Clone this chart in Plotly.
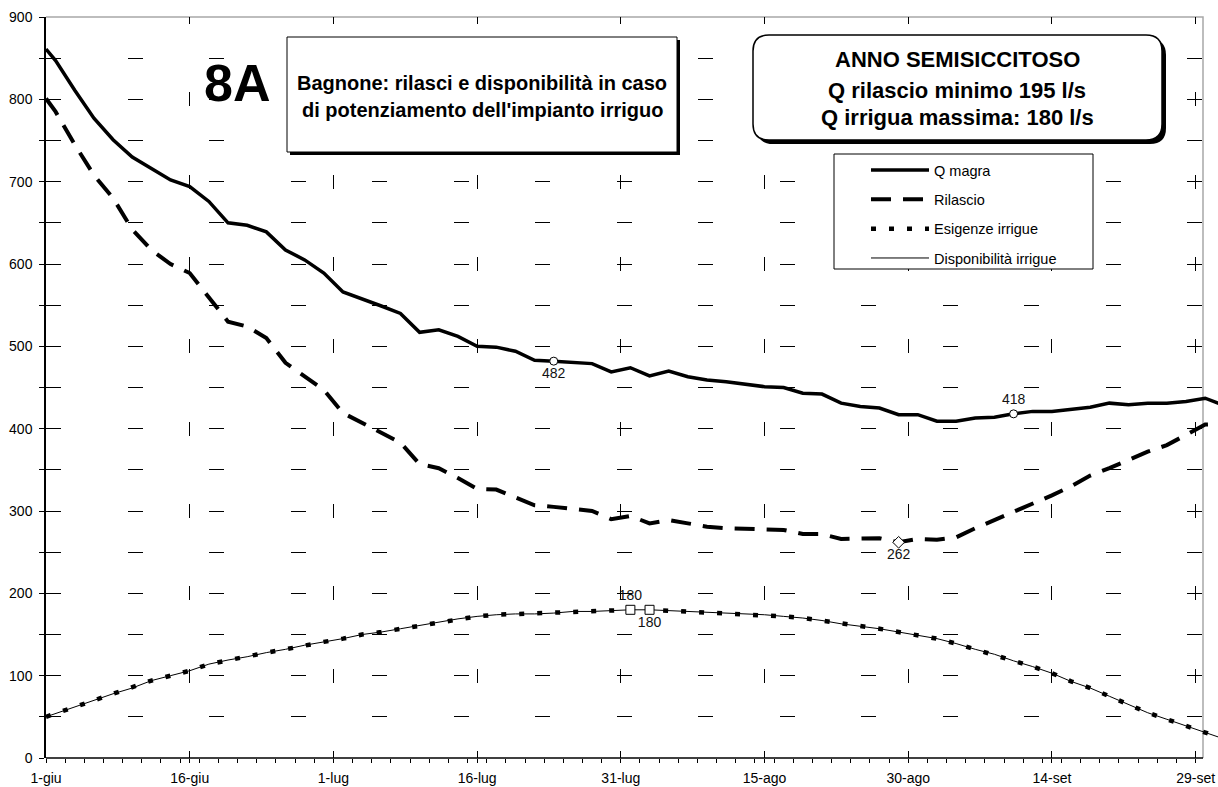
import plotly.graph_objects as go

# ---------------- data ----------------
days = [0, 1, 3, 5, 7, 9, 11, 13, 15, 17, 19, 21, 23, 25, 27, 29, 31, 33, 35, 37,
        39, 41, 43, 45, 47, 49, 51, 53, 55, 57, 59, 61, 63, 65, 67, 69, 71, 73, 75,
        77, 79, 81, 83, 85, 87, 89, 91, 93, 95, 97, 99, 101, 103, 105, 107, 109,
        111, 113, 115, 117, 119, 121, 123]

q_magra = [861, 847, 811, 777, 751, 730, 716, 702, 694, 676, 650, 647, 639, 617, 605,
           589, 566, 558, 549, 540, 517, 520, 512, 500, 499, 494, 483, 482, 481, 479,
           469, 474, 464, 470, 463, 459, 457, 454, 451, 450, 443, 442, 431, 427, 425,
           417, 417, 409, 409, 413, 414, 418, 421, 421, 424, 426, 431, 429, 431, 431,
           433, 437, 428]

rilascio = [801, 785, 745, 708, 680, 642, 617, 600, 589, 560, 530, 524, 510, 480, 463,
            447, 419, 407, 396, 383, 357, 352, 340, 327, 326, 316, 307, 305, 302, 300,
            290, 294, 285, 289, 285, 281, 279, 278, 277, 277, 272, 272, 266, 266, 267,
            262, 266, 265, 268, 279, 289, 298, 309, 319, 330, 343, 352, 362, 372, 380,
            392, 405, 406]

esigenze = [50, 54, 62, 70, 78, 85, 94, 100, 106, 114, 119, 123, 128, 132, 137, 141,
            145, 150, 153, 157, 161, 165, 169, 172, 174, 175, 175, 176, 178, 178, 179,
            180, 180, 179, 178, 177, 176, 175, 174, 172, 170, 167, 163, 160, 157, 153,
            149, 145, 139, 132, 126, 118, 111, 103, 93, 85, 75, 65, 55, 47, 39, 31, 23]

disponibilita = [50, 54, 62, 70, 78, 85, 94, 100, 106, 114, 119, 123, 128, 132, 137, 141,
                 145, 150, 153, 157, 161, 165, 169, 172, 174, 175, 175, 176, 178, 178, 179,
                 180, 180, 179, 178, 177, 176, 175, 174, 172, 170, 167, 163, 160, 157, 153,
                 149, 145, 139, 132, 126, 118, 111, 103, 93, 85, 75, 65, 55, 47, 39, 31, 23]

# highlighted points
qmagra_mark_days = [53, 101]
qmagra_mark_vals = [482, 418]
rilascio_mark_days = [89]
rilascio_mark_vals = [262]
irrig_mark_days = [61, 63]
irrig_mark_vals = [180, 180]

tick_days = [0, 15, 30, 45, 60, 75, 90, 105, 120]
tick_labels = ["1-giu", "16-giu", "1-lug", "16-lug", "31-lug", "15-ago", "30-ago",
               "14-set", "29-set"]
minor_tick_days = list(range(0, 121, 2))

series_names = ["Q magra", "Rilascio", "Esigenze irrigue", "Disponibilità irrigue"]

# ---------------- geometry helpers ----------------
W, H = 1218, 787
ML, MT, MB, MR = 46, 17, 29, 0
PW = W - ML - MR
PH = H - MT - MB
PX_PER_DAY = 9.58
X_MAX = PW / PX_PER_DAY

def px(xp):
    return (xp - ML) / PW

def py(yp):
    return (H - MB - yp) / PH

FONT = "Liberation Sans, Arial, sans-serif"

fig = go.Figure()

fig.add_trace(go.Scatter(x=days, y=q_magra, name=series_names[0], mode="lines",
                         legendgroup="a",
                         line=dict(color="black", width=3.5)))
fig.add_trace(go.Scatter(x=days, y=rilascio, name=series_names[1], mode="lines",
                         legendgroup="b",
                         line=dict(color="black", width=4, dash="20px,12px")))
fig.add_trace(go.Scatter(x=days, y=esigenze, name=series_names[2], mode="lines",
                         legendgroup="c",
                         line=dict(color="black", width=4.5, dash="5px,13px")))
fig.add_trace(go.Scatter(x=days, y=disponibilita, name=series_names[3], mode="lines",
                         legendgroup="d",
                         line=dict(color="black", width=1)))

mark_font = dict(family=FONT, size=14, color="#111")
fig.add_trace(go.Scatter(x=qmagra_mark_days, y=qmagra_mark_vals, mode="markers+text",
                         showlegend=False,
                         text=[str(v) for v in qmagra_mark_vals],
                         textposition=["bottom center", "top center"],
                         textfont=mark_font,
                         marker=dict(symbol="circle", size=8, color="white",
                                     line=dict(color="black", width=1))))
fig.add_trace(go.Scatter(x=rilascio_mark_days, y=rilascio_mark_vals, mode="markers+text",
                         showlegend=False,
                         text=[str(v) for v in rilascio_mark_vals],
                         textposition=["bottom center"],
                         textfont=mark_font,
                         marker=dict(symbol="diamond", size=9, color="white",
                                     line=dict(color="black", width=1))))
fig.add_trace(go.Scatter(x=irrig_mark_days, y=irrig_mark_vals, mode="markers+text",
                         showlegend=False,
                         text=[str(v) for v in irrig_mark_vals],
                         textposition=["top center", "bottom center"],
                         textfont=mark_font,
                         marker=dict(symbol="square", size=9, color="white",
                                     line=dict(color="black", width=1))))

# ---------------- decorations ----------------
shapes = []
# light grey plot-area border (top and right)
shapes.append(dict(type="path", xref="paper", yref="paper", layer="below",
                   path=f"M{px(46)},{py(17)} L{px(1203)},{py(17)} L{px(1203)},{py(758)}",
                   line=dict(color="#a8a8a8", width=1.5)))
# x axis line
shapes.append(dict(type="line", xref="paper", yref="paper", layer="above",
                   x0=0, x1=px(1203), y0=0, y1=0,
                   line=dict(color="black", width=1.5)))
# title box 1 with shadow
shapes.append(dict(type="rect", xref="paper", yref="paper", layer="above",
                   x0=px(290), x1=px(680), y0=py(40), y1=py(155),
                   fillcolor="black", line=dict(width=0)))
shapes.append(dict(type="rect", xref="paper", yref="paper", layer="above",
                   x0=px(287), x1=px(677), y0=py(37), y1=py(152),
                   fillcolor="white", line=dict(color="black", width=1)))

def rounded(x0, y0, x1, y1, r):
    return (f"M{px(x0 + r)},{py(y0)} L{px(x1 - r)},{py(y0)} "
            f"Q{px(x1)},{py(y0)} {px(x1)},{py(y0 + r)} "
            f"L{px(x1)},{py(y1 - r)} Q{px(x1)},{py(y1)} {px(x1 - r)},{py(y1)} "
            f"L{px(x0 + r)},{py(y1)} Q{px(x0)},{py(y1)} {px(x0)},{py(y1 - r)} "
            f"L{px(x0)},{py(y0 + r)} Q{px(x0)},{py(y0)} {px(x0 + r)},{py(y0)} Z")

shapes.append(dict(type="path", xref="paper", yref="paper", layer="above",
                   path=rounded(757, 39, 1166, 144, 16),
                   fillcolor="black", line=dict(width=0)))
shapes.append(dict(type="path", xref="paper", yref="paper", layer="above",
                   path=rounded(753, 35, 1162, 140, 16),
                   fillcolor="white", line=dict(color="black", width=1.5)))
# legend box
shapes.append(dict(type="rect", xref="paper", yref="paper", layer="above",
                   x0=px(834), x1=px(1093), y0=py(154), y1=py(269),
                   fillcolor="white", line=dict(color="black", width=1)))

annotations = [
    dict(text="<b>8A</b>", x=px(237), y=py(83), xref="paper", yref="paper",
         showarrow=False, xanchor="center", yanchor="middle",
         font=dict(family=FONT, size=52, color="black")),
    dict(text="<b>Bagnone: rilasci e disponibilità in caso</b>", x=px(482), y=py(83),
         xref="paper", yref="paper", showarrow=False, xanchor="center", yanchor="middle",
         font=dict(family=FONT, size=20, color="black")),
    dict(text="<b>di potenziamento dell'impianto irriguo</b>", x=px(482), y=py(110),
         xref="paper", yref="paper", showarrow=False, xanchor="center", yanchor="middle",
         font=dict(family=FONT, size=20, color="black")),
    dict(text="<b>ANNO SEMISICCITOSO</b>", x=px(957), y=py(60),
         xref="paper", yref="paper", showarrow=False, xanchor="center", yanchor="middle",
         font=dict(family=FONT, size=22, color="black")),
    dict(text="<b>Q rilascio minimo 195 l/s</b>", x=px(957), y=py(90),
         xref="paper", yref="paper", showarrow=False, xanchor="center", yanchor="middle",
         font=dict(family=FONT, size=22, color="black")),
    dict(text="<b>Q irrigua massima: 180 l/s</b>", x=px(957), y=py(117),
         xref="paper", yref="paper", showarrow=False, xanchor="center", yanchor="middle",
         font=dict(family=FONT, size=22, color="black")),
]

fig.update_layout(
    width=W, height=H,
    margin=dict(l=ML, r=MR, t=MT, b=MB, pad=0, autoexpand=False),
    paper_bgcolor="white", plot_bgcolor="white",
    font=dict(family=FONT, size=14, color="black"),
    shapes=shapes, annotations=annotations,
    showlegend=True,
    legend=dict(x=px(866), y=py(154), xanchor="left", yanchor="top",
                bgcolor="rgba(0,0,0,0)", borderwidth=0,
                font=dict(family=FONT, size=14.5, color="black"),
                itemwidth=58, tracegroupgap=7.5, traceorder="grouped"),
    xaxis=dict(range=[0, X_MAX], tickmode="array", tickvals=tick_days,
               ticktext=tick_labels, ticks="outside", ticklen=4, tickwidth=1,
               tickcolor="black", showline=False, zeroline=False, automargin=False,
               showgrid=True, gridcolor="black", gridwidth=1,
               griddash="7px,68.33px,7px,0px",
               ticklabelstandoff=3,
               tickfont=dict(family=FONT, size=14, color="black"),
               minor=dict(tickmode="array", tickvals=minor_tick_days, ticks="outside",
                          ticklen=4, tickwidth=1, tickcolor="black", showgrid=False)),
    yaxis=dict(range=[0, 900], tick0=0, dtick=100, ticks="outside", ticklen=5,
               tickwidth=1, tickcolor="black", showline=True, linecolor="black",
               linewidth=1.5, zeroline=False, automargin=False,
               showgrid=True, gridcolor="black", gridwidth=1,
               griddash="15px,66.5px",
               ticklabelstandoff=4,
               tickfont=dict(family=FONT, size=14, color="black"),
               minor=dict(dtick=50, ticks="outside", ticklen=5, tickwidth=1,
                          tickcolor="black", showgrid=True, gridcolor="black",
                          gridwidth=1, griddash="15px,66.5px")),
)

fig.write_html("out.html",
               config=dict(displayModeBar=False),
               post_script="document.body.style.margin='0px';"
                           "document.body.style.overflow='hidden';")
